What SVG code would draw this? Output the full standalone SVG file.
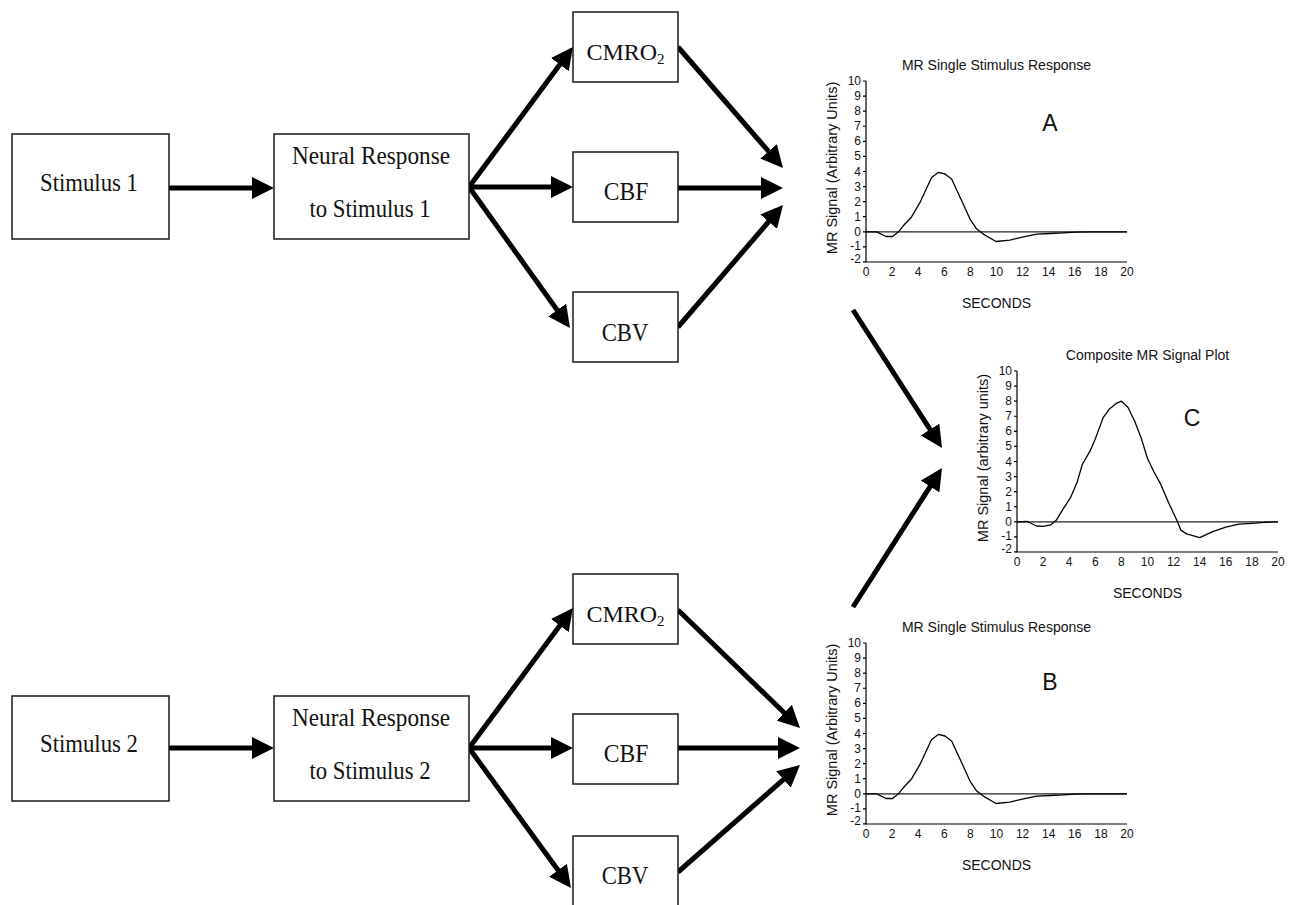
<svg xmlns="http://www.w3.org/2000/svg" width="1290" height="905" viewBox="0 0 1290 905">
<defs>
<style>
.box{fill:#fff;stroke:#1a1a1a;stroke-width:1.5}
.bt{font-family:"Liberation Serif","Times New Roman",serif;font-size:25px;fill:#111;text-anchor:middle}
.cm{font-size:24px}
.sub{font-size:15px}
.arr{stroke:#000;stroke-width:5;fill:none;marker-end:url(#ah)}
.ax{stroke:#000;stroke-width:1.2;fill:none}
.zero{stroke:#222;stroke-width:1.3}
.curve{stroke:#000;stroke-width:1.3;fill:none;stroke-linejoin:round}
.pt{font-family:"Liberation Sans",Arial,sans-serif;fill:#111}
.ttl{font-size:14px;text-anchor:middle}
.ylab{font-size:14.5px;text-anchor:middle}
.yt{font-size:12px;text-anchor:end}
.xt{font-size:12px;text-anchor:middle}
.sec{font-size:14px;text-anchor:middle}
.big{font-size:23px;text-anchor:middle}
</style>
<marker id="ah" viewBox="0 0 22 22" markerWidth="22" markerHeight="22" markerUnits="userSpaceOnUse" refX="10" refY="11" orient="auto">
<path d="M0,0 L22,11 L0,22 Z" fill="#000"/>
</marker>
<g id="axes">
<path class="ax" d="M0,0 V181 H261"/>
<path class="ax" d="M-3,0H0M-3,15.08H0M-3,30.16H0M-3,45.24H0M-3,60.32H0M-3,75.4H0M-3,90.48H0M-3,105.56H0M-3,120.64H0M-3,135.72H0M-3,150.8H0M-3,165.88H0M-3,180.96H0"/>
<line class="zero" x1="0" y1="150.8" x2="261" y2="150.8"/>
<g class="pt yt">
<text x="-5" y="4">10</text><text x="-5" y="19.1">9</text><text x="-5" y="34.2">8</text><text x="-5" y="49.2">7</text><text x="-5" y="64.3">6</text><text x="-5" y="79.4">5</text><text x="-5" y="94.5">4</text><text x="-5" y="109.6">3</text><text x="-5" y="124.6">2</text><text x="-5" y="139.7">1</text><text x="-5" y="154.8">0</text><text x="-5" y="169.4">-1</text><text x="-5" y="182">-2</text>
</g>
<g class="pt xt">
<text x="0" y="195">0</text><text x="26.1" y="195">2</text><text x="52.2" y="195">4</text><text x="78.3" y="195">6</text><text x="104.4" y="195">8</text><text x="130.5" y="195">10</text><text x="156.6" y="195">12</text><text x="182.7" y="195">14</text><text x="208.8" y="195">16</text><text x="234.9" y="195">18</text><text x="261" y="195">20</text>
</g>
<text class="pt sec" x="130.5" y="227">SECONDS</text>
</g>
<polyline id="single" class="curve" points="0,150.8 10.7,150.8 20,155.5 26.6,155.5 32.4,150.8 37.3,144.8 45.7,135.7 54,121.4 65.6,96.5 72.3,91.4 79,93 85.6,98 95.7,119.7 104,138.1 110.7,148.1 117.3,153.1 130,160.5 143.9,159.1 157.4,155.8 170.7,153.1 184,152.5 197.1,151.9 210.1,151.1 224.5,150.8 261,150.8"/>
</defs>

<g id="connectors">
<line class="arr" x1="169" y1="188" x2="262" y2="188"/>
<line class="arr" x1="469" y1="187" x2="565.8" y2="56.6"/>
<line class="arr" x1="469" y1="187" x2="561" y2="187"/>
<line class="arr" x1="469" y1="187" x2="563" y2="318.2"/>
<line class="arr" x1="678" y1="47" x2="775.1" y2="158.9"/>
<line class="arr" x1="678" y1="188" x2="771" y2="188"/>
<line class="arr" x1="678" y1="327" x2="775.2" y2="214.1"/>
<line class="arr" x1="169" y1="748" x2="262" y2="748"/>
<line class="arr" x1="469" y1="748" x2="565.8" y2="617.6"/>
<line class="arr" x1="469" y1="748" x2="561" y2="748"/>
<line class="arr" x1="469" y1="748" x2="563.9" y2="878.3"/>
<line class="arr" x1="678" y1="610" x2="791.4" y2="719.7"/>
<line class="arr" x1="678" y1="748" x2="788" y2="748"/>
<line class="arr" x1="678" y1="872" x2="791" y2="772.9"/>
<line class="arr" x1="853" y1="310" x2="935.5" y2="437.9"/>
<line class="arr" x1="853" y1="607" x2="935.5" y2="478.1"/>
</g>

<g id="stimulus1">
<rect class="box" x="12" y="134" width="157" height="105"/>
<text class="bt" x="89" y="191" textLength="98" lengthAdjust="spacingAndGlyphs">Stimulus 1</text>
</g>
<g id="neural1">
<rect class="box" x="274" y="134" width="195" height="105"/>
<text class="bt" x="371" y="164" textLength="158" lengthAdjust="spacingAndGlyphs">Neural Response</text>
<text class="bt" x="370" y="217" textLength="121" lengthAdjust="spacingAndGlyphs">to Stimulus 1</text>
</g>
<g id="cmro2_1">
<rect class="box" x="573" y="12" width="105" height="70"/>
<text class="bt cm" x="625.5" y="60">CMRO<tspan class="sub" dy="4">2</tspan></text>
</g>
<g id="cbf_1">
<rect class="box" x="573" y="152" width="105" height="70"/>
<text class="bt" x="626" y="200" textLength="44.5" lengthAdjust="spacingAndGlyphs">CBF</text>
</g>
<g id="cbv_1">
<rect class="box" x="573" y="292" width="105" height="70"/>
<text class="bt" x="625" y="340.5" textLength="46.7" lengthAdjust="spacingAndGlyphs">CBV</text>
</g>

<g id="stimulus2">
<rect class="box" x="12" y="696" width="157" height="105"/>
<text class="bt" x="89" y="752" textLength="98" lengthAdjust="spacingAndGlyphs">Stimulus 2</text>
</g>
<g id="neural2">
<rect class="box" x="274" y="696" width="195" height="105"/>
<text class="bt" x="371" y="725.5" textLength="158" lengthAdjust="spacingAndGlyphs">Neural Response</text>
<text class="bt" x="370" y="778.5" textLength="121" lengthAdjust="spacingAndGlyphs">to Stimulus 2</text>
</g>
<g id="cmro2_2">
<rect class="box" x="573" y="574" width="105" height="70"/>
<text class="bt cm" x="625.5" y="622">CMRO<tspan class="sub" dy="4">2</tspan></text>
</g>
<g id="cbf_2">
<rect class="box" x="573" y="714" width="105" height="70"/>
<text class="bt" x="626" y="762" textLength="44.5" lengthAdjust="spacingAndGlyphs">CBF</text>
</g>
<g id="cbv_2">
<rect class="box" x="573" y="836" width="105" height="72"/>
<text class="bt" x="625" y="883.5" textLength="46.7" lengthAdjust="spacingAndGlyphs">CBV</text>
</g>

<g id="plotA" transform="translate(866,81)">
<text class="pt ttl" x="130.5" y="-11">MR Single Stimulus Response</text>
<use href="#axes"/>
<use href="#single"/>
<text class="pt ylab" transform="translate(-29,87) rotate(-90)">MR Signal (Arbitrary Units)</text>
<text class="pt big" x="184" y="50">A</text>
</g>

<g id="plotB" transform="translate(866,643)">
<text class="pt ttl" x="130.5" y="-11">MR Single Stimulus Response</text>
<use href="#axes"/>
<use href="#single"/>
<text class="pt ylab" transform="translate(-29,87) rotate(-90)">MR Signal (Arbitrary Units)</text>
<text class="pt big" x="184" y="47">B</text>
</g>

<g id="plotC" transform="translate(1017,371)">
<text class="pt ttl" x="130.5" y="-11">Composite MR Signal Plot</text>
<use href="#axes"/>
<polyline class="curve" points="0,150.8 10.4,150.5 19.6,155 26.1,155.3 33.9,153.8 39.2,149.3 45.7,138.7 53.5,126.7 60,111.6 65.3,93.5 73.1,79.9 78.3,67.9 86.1,46.7 92.7,37.7 99.2,32.4 104.4,30.2 110.9,36.2 117.5,49.8 124,66.4 130.5,87.5 137,101 143.6,113.1 151.4,131.2 160.5,150.8 163.8,159.1 169.7,162.9 182.7,166.6 195.8,160.6 208.8,156.1 221.9,153.1 234.9,152.3 248,151.4 261,150.8"/>
<text class="pt ylab" transform="translate(-29,87) rotate(-90)">MR Signal (arbitrary units)</text>
<text class="pt big" x="175" y="55">C</text>
</g>
</svg>
